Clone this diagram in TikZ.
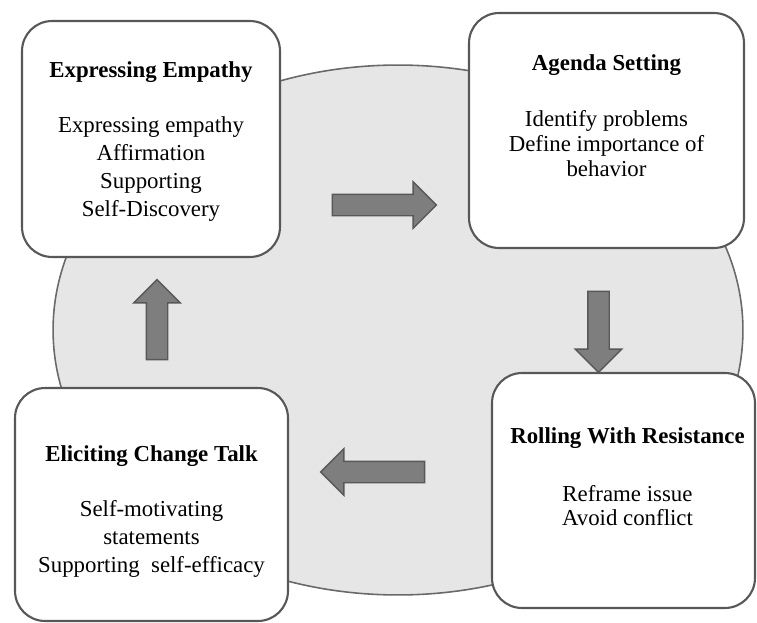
\documentclass[tikz,border=0pt]{standalone}
\usepackage{fontspec}
\setmainfont{Liberation Serif}
\usetikzlibrary{positioning,shapes.arrows}
\definecolor{ringfill}{RGB}{230,230,230}
\definecolor{ringline}{RGB}{105,105,105}
\definecolor{boxline}{RGB}{88,88,88}
\definecolor{arrowfill}{RGB}{126,126,126}
\definecolor{arrowline}{RGB}{88,88,88}
\tikzset{
  stagebox/.style={draw=boxline, line width=1.2pt, fill=white, rounded corners=0.6cm},
  stagetext/.style={align=center, inner sep=0pt},
  looseleading/.style={font=\fontsize{13}{16}\selectfont},
  tightleading/.style={font=\fontsize{13}{14}\selectfont},
  blockarrow/.style={single arrow, draw=arrowline, fill=arrowfill, line width=0.8pt,
    inner sep=0.2cm, minimum height=#1}
}
\begin{document}
\begin{tikzpicture}[x=0.02cm, y=-0.02cm]
    \useasboundingbox (0,0) rectangle (757,622);
    \draw[draw=ringline, fill=ringfill, line width=0.9pt] (398,330) ellipse [x radius=6.9cm, y radius=5.3cm];

    \node[stagebox, minimum width=5.16cm, minimum height=4.72cm] (empathy) at (151,139) {};
    \node[stagebox, minimum width=5.5cm, minimum height=4.7cm] (agenda) at (606.5,130.5) {};
    \node[stagebox, minimum width=5.26cm, minimum height=4.7cm] (resistance) at (623.5,490.5) {};
    \node[stagebox, minimum width=5.46cm, minimum height=4.66cm] (change) at (151.5,504.5) {};

    \node[stagetext, looseleading, below=0.82cm of empathy.north] (empathytxt)
        {\textbf{Expressing Empathy}\\[15.3pt] Expressing empathy\\ Affirmation\\ Supporting\\ Self-Discovery};
    \node[stagetext, tightleading, below=0.85cm of agenda.north] (agendatxt)
        {\textbf{Agenda Setting}\\[18pt] Identify problems\\ Define importance of\\ behavior};
    \node[stagetext, tightleading, below=1.1cm of resistance.north, xshift=0.08cm] (resistancetxt)
        {\textbf{Rolling With Resistance}\\[19pt] Reframe issue\\ Avoid conflict};
    \node[stagetext, looseleading, below=1.16cm of change.north] (changetxt)
        {\textbf{Eliciting Change Talk}\\[15.3pt] Self-motivating\\ statements\\ Supporting\ \ self-efficacy};

    \node[blockarrow=2.08cm] (toagenda) at (379,205) {};
    \node[blockarrow=1.62cm, rotate=-90] (toresistance) at (598.5,326.5) {};
    \node[blockarrow=2.08cm, rotate=180] (tochange) at (378,472) {};
    \node[blockarrow=1.6cm, rotate=90] (toempathy) at (157,325) {};
\end{tikzpicture}
\end{document}
